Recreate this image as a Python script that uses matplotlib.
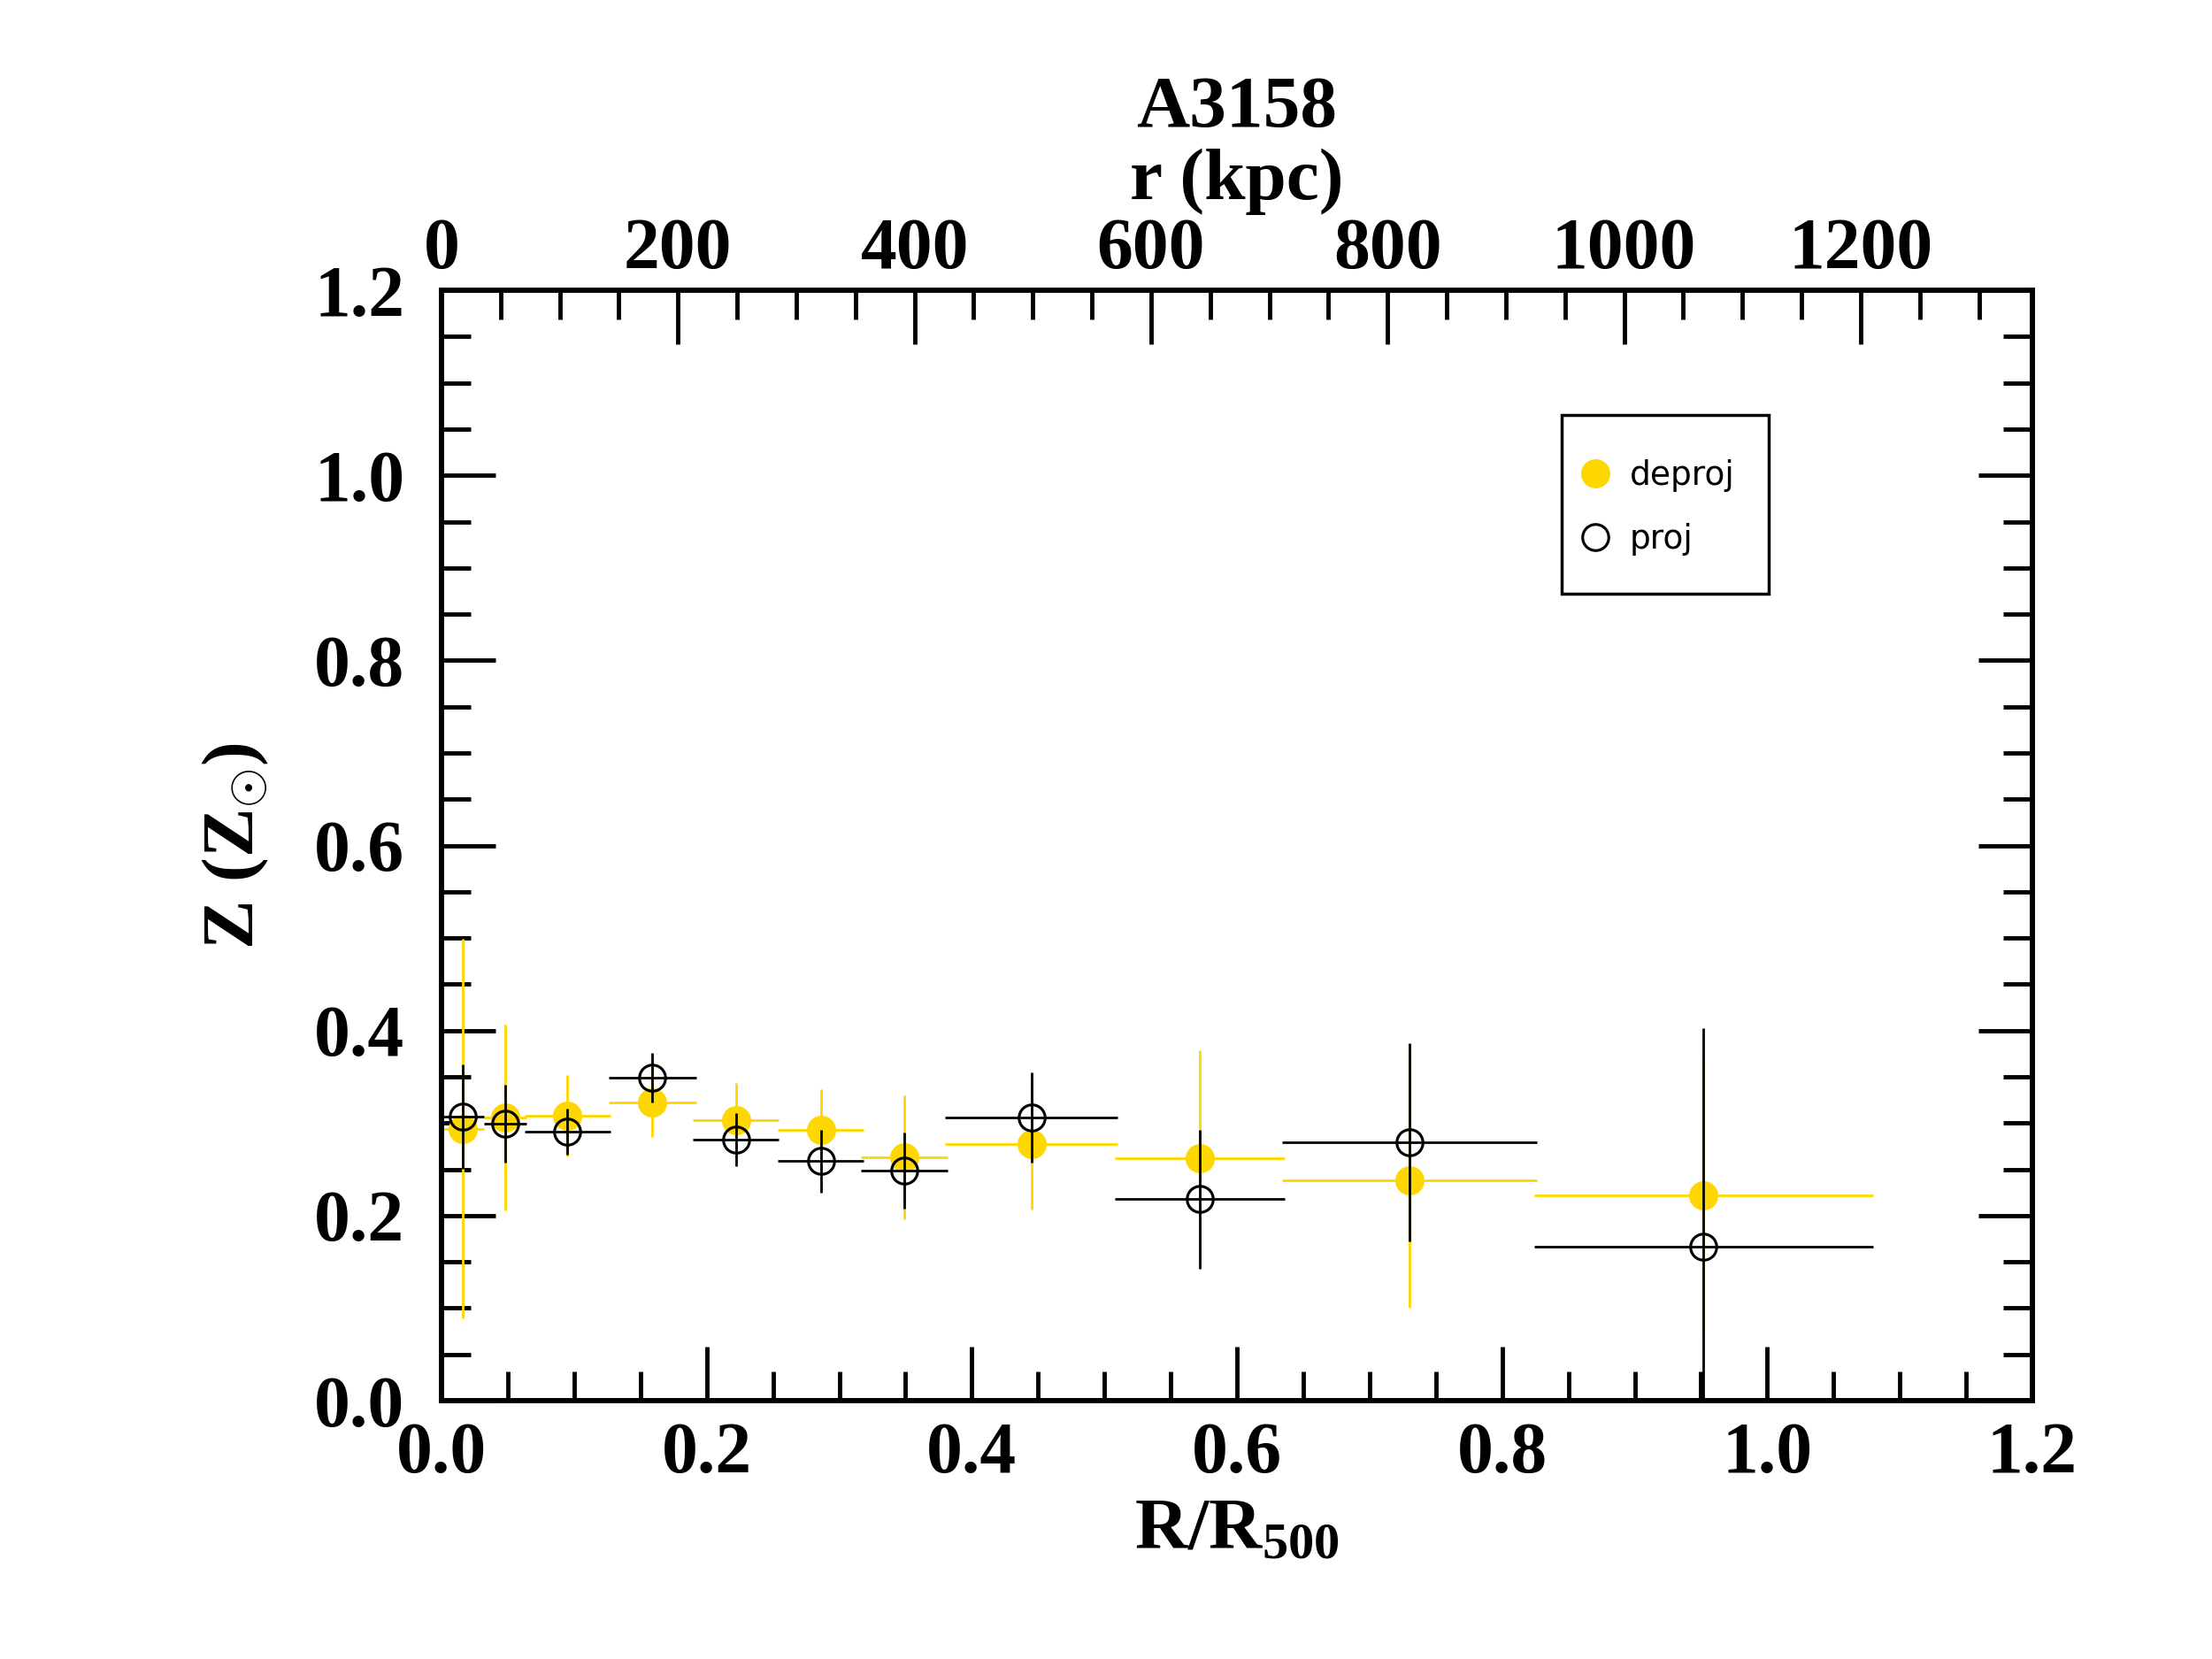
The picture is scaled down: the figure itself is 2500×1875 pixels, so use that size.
import numpy as np
import matplotlib.pyplot as plt
from matplotlib.lines import Line2D
from matplotlib.patches import Rectangle

plt.rcParams['font.family'] = 'Liberation Serif'
plt.rcParams['font.weight'] = 'bold'
plt.rcParams['mathtext.fontset'] = 'custom'
plt.rcParams['mathtext.rm'] = 'Liberation Serif:bold'
plt.rcParams['mathtext.bf'] = 'Liberation Serif:bold'
plt.rcParams['mathtext.it'] = 'Liberation Serif:bold'

# data (R/R500)
r = [0.016, 0.048, 0.095, 0.159, 0.222, 0.286, 0.349, 0.445, 0.572, 0.730, 0.952]
r_err = [0.016, 0.016, 0.0325, 0.033, 0.0325, 0.0325, 0.0325, 0.065, 0.064, 0.096, 0.128]

z_deproj = [0.294, 0.306, 0.308, 0.322, 0.303, 0.293, 0.263, 0.277, 0.262, 0.238, 0.222]
z_deproj_err = [0.205, 0.100, 0.044, 0.037, 0.040, 0.044, 0.067, 0.070, 0.117, 0.138, 0.150]

z_proj = [0.307, 0.299, 0.291, 0.349, 0.282, 0.259, 0.249, 0.306, 0.218, 0.279, 0.166]
z_proj_err = [0.056, 0.042, 0.025, 0.027, 0.029, 0.034, 0.041, 0.049, 0.075, 0.107, 0.237]

r500_kpc = 1121.0
gold = '#FFD700'

fig = plt.figure(figsize=(10, 7.5), dpi=250)
ax = fig.add_axes([0.1996, 0.1557, 0.7192, 0.6693])

ax.errorbar(r, z_deproj, xerr=r_err, yerr=z_deproj_err, fmt='o', color=gold,
            ms=8.5, mec=gold, elinewidth=0.8, capsize=0, zorder=2)
ax.errorbar(r, z_proj, xerr=r_err, yerr=z_proj_err, fmt='o', color='black',
            mfc='none', mec='black', mew=0.9, ms=8.5, elinewidth=0.8, capsize=0, zorder=3)

ax.set_xlim(0, 1.2)
ax.set_ylim(0, 1.2)
ax.set_xticks(np.arange(0, 1.21, 0.2))
ax.set_xticks(np.arange(0, 1.21, 0.05), minor=True)
ax.set_yticks(np.arange(0, 1.21, 0.2))
ax.set_yticks(np.arange(0, 1.21, 0.05), minor=True)
ax.xaxis.set_major_formatter(plt.FormatStrFormatter('%.1f'))
ax.yaxis.set_major_formatter(plt.FormatStrFormatter('%.1f'))
ax.tick_params(which='both', direction='in', left=True, right=True, bottom=True, top=False,
               width=1.4, labelsize=23.5)
ax.tick_params(which='major', length=17.5)
ax.tick_params(which='minor', length=9.5)
ax.tick_params(axis='x', pad=7)
ax.tick_params(axis='y', pad=12)
for s in ax.spines.values():
    s.set_linewidth(1.6)

ax.set_xlabel(r'R/R$_{\mathrm{500}}$', fontsize=24, fontweight='bold', labelpad=3)
ax.set_ylabel(r'Z (Z$_{\odot}$)', fontsize=24, fontweight='bold', labelpad=14)

ax2 = ax.twiny()
ax2.set_xlim(0, 1.2 * r500_kpc)
ax2.set_xticks(np.arange(0, 1201, 200))
ax2.set_xticks(np.arange(0, 1301, 50), minor=True)
ax2.tick_params(which='both', direction='in', width=1.4, labelsize=23.5, pad=2)
ax2.tick_params(which='major', length=17.5)
ax2.tick_params(which='minor', length=9.5)
ax2.set_xlabel('A3158\nr (kpc)', fontsize=24, fontweight='bold', linespacing=1.13, labelpad=6)
for s in ax2.spines.values():
    s.set_linewidth(1.6)

# legend box drawn separately so its padding matches the original
ax.add_patch(Rectangle((0.704, 0.727), 0.130, 0.161, transform=ax.transAxes,
                       fill=False, edgecolor='black', lw=1.0, zorder=5, clip_on=False))
handles = [Line2D([], [], ls='none', marker='o', color=gold, ms=8.5),
           Line2D([], [], ls='none', marker='o', mfc='none', mec='black', mew=0.9, ms=8.5)]
leg = ax.legend(handles, ['deproj', 'proj'], loc='upper left', bbox_to_anchor=(0.7147, 0.848),
                prop={'family': 'DejaVu Sans', 'size': 10.8, 'weight': 'normal'},
                frameon=False, borderpad=0, labelspacing=0.93, handletextpad=0.54,
                handlelength=1.0, borderaxespad=0)

fig.savefig('out.png', dpi=250)
